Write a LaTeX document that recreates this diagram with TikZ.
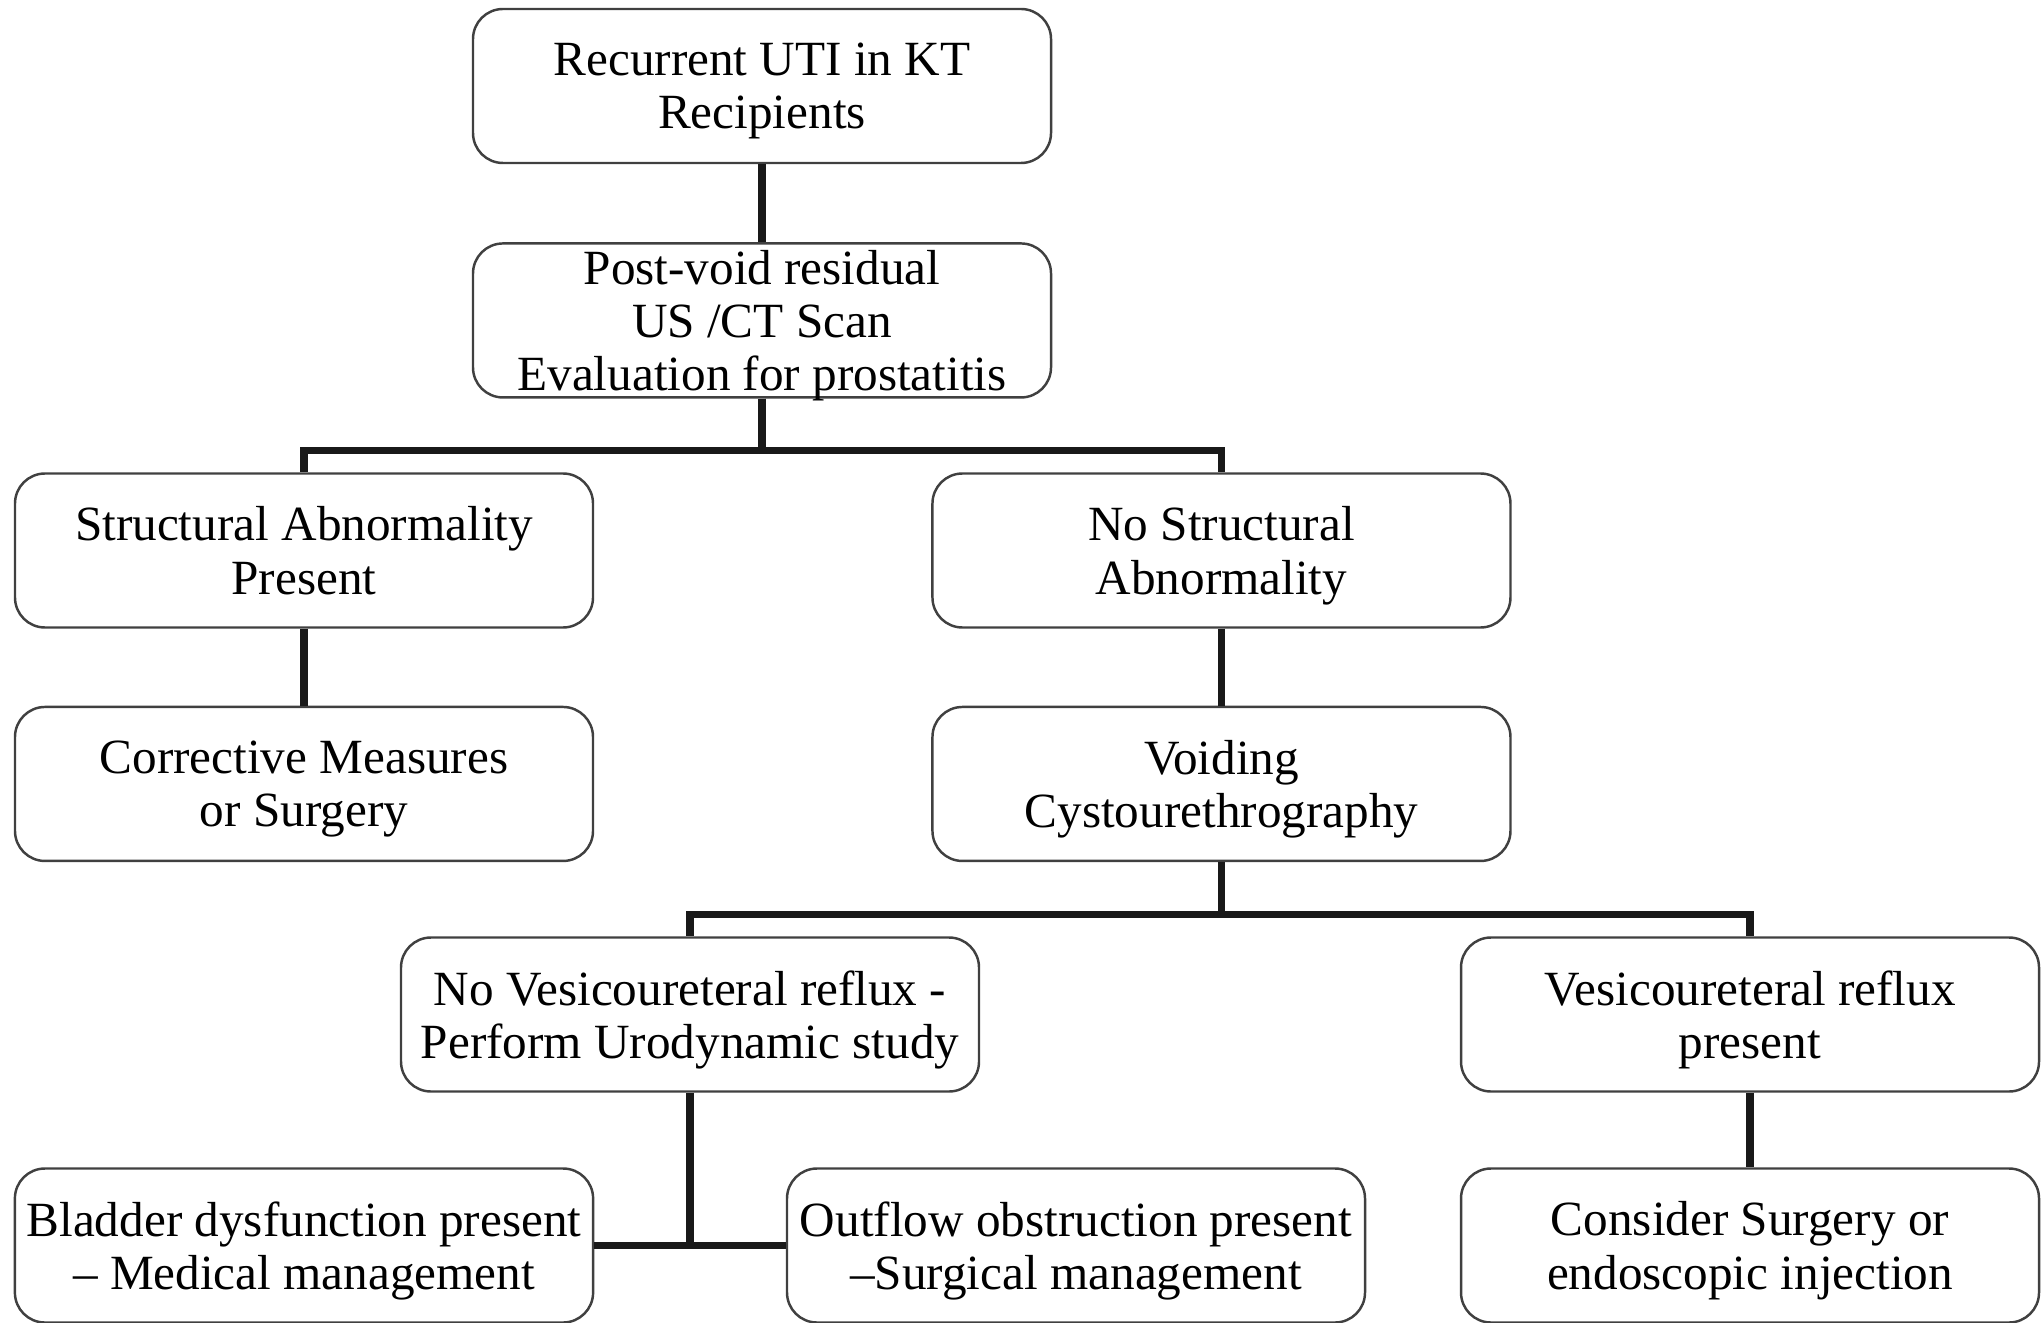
\documentclass[tikz,border=0pt]{standalone}
\usepackage{fontspec}
\setmainfont{Liberation Serif}
\usetikzlibrary{positioning, calc}
\definecolor{cline}{gray}{0.10}
\definecolor{cedge}{gray}{0.25}

\begin{document}
\begin{tikzpicture}[
    every node/.style={font=\fontsize{14}{15.2}\selectfont},
    box/.style={draw=cedge, line width=0.7pt, rounded corners=0.3cm, minimum width=5.78cm, minimum height=1.54cm, inner ysep=0pt, text depth=0pt, align=center},
    link/.style={draw=cline, line width=2.1pt}
]
\useasboundingbox (0,0) rectangle (20.42,-13.23);

%% Top of the chart
\node[box] (rec) at (7.62,-0.86) {Recurrent UTI in KT\\Recipients};
\node[box, below=0.78cm of rec] (work) {Post-void residual\\US /CT Scan\\Evaluation for prostatitis};

%% Structural branch
\node[box] (sap) at (3.04,-5.505) {Structural Abnormality\\Present};
\node[box, right=3.37cm of sap] (nosa) {No Structural\\Abnormality};
\node[box, below=0.77cm of sap] (corr) {Corrective Measures\\or Surgery};
\node[box, below=0.77cm of nosa] (vcug) {Voiding\\Cystourethrography};

%% Reflux branch
\node[box] (novur) at (6.90,-10.145) {No Vesicoureteral reflux -\\Perform Urodynamic study};
\node[box] (vur) at (17.50,-10.145) {Vesicoureteral reflux\\present};

%% Bottom row
\node[box] (bladder) at (3.04,-12.455) {Bladder dysfunction present\\– Medical management};
\node[box] (outflow) at (10.76,-12.455) {Outflow obstruction present\\–Surgical management};
\node[box] (consider) at (17.50,-12.455) {Consider Surgery or\\endoscopic injection};

%% Connectors
\draw[link] (rec) -- (work);
\draw[link] (work.south) -- ++(0,-0.52) -| (sap.north);
\draw[link] (work.south) -- ++(0,-0.52) -| (nosa.north);
\draw[link] (sap) -- (corr);
\draw[link] (nosa) -- (vcug);
\draw[link] (vcug.south) -- ++(0,-0.52) -| (novur.north);
\draw[link] (vcug.south) -- ++(0,-0.52) -| (vur.north);
\draw[link] (vur) -- (consider);
\draw[link] (novur.south) -- (novur.south |- bladder.east);
\draw[link] (bladder.east) -- (outflow.west);
\end{tikzpicture}
\end{document}
